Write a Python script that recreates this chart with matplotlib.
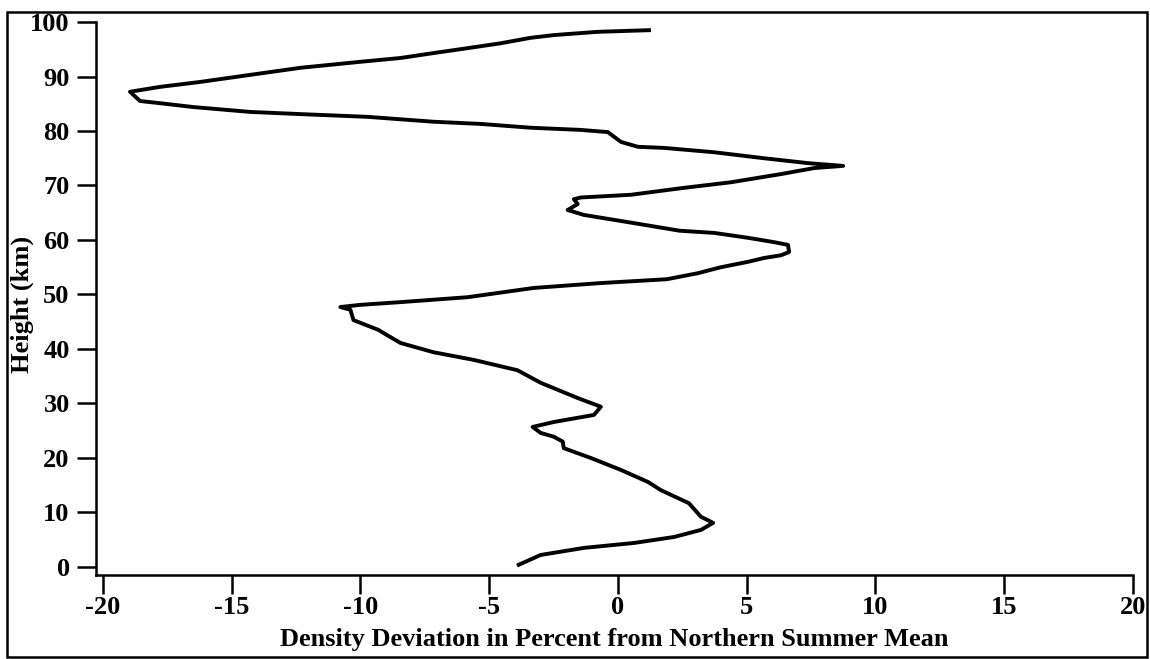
import matplotlib.pyplot as plt
import matplotlib.patches as patch

# density deviation profile, bottom to top
deviation = [-3.85, -3.0, -1.32, 0.62, 2.18, 3.23, 3.70, 3.23, 2.76, 1.67,
             1.17, 0.12, -1.05, -2.1, -2.14, -2.49, -3.0, -3.31, -2.49, -0.93,
             -0.66, -1.56, -3.0, -3.9, -5.6, -7.16, -8.44, -8.95, -9.3, -10.27,
             -10.39, -10.78, -10.0, -8.44, -5.84, -3.27, -0.66, 1.9, 3.1, 4.0,
             5.06, 5.68, 6.34, 6.65, 6.61, 6.07, 5.06, 3.74, 2.4, 0.62,
             -1.32, -1.95, -1.56, -1.71, -1.44, 0.51, 2.45, 4.4, 6.34, 7.63,
             8.75, 7.39, 5.68, 3.74, 1.79, 0.78, 0.12, -0.39, -1.44, -3.39,
             -5.33, -7.16, -9.73, -12.33, -14.28, -16.5, -17.78, -18.56, -18.95, -17.78,
             -16.23, -14.28, -12.33, -10.0, -8.44, -7.16, -5.84, -4.55, -3.39, -2.49,
             -0.78, 1.21]
height = [0.4, 2.2, 3.5, 4.4, 5.5, 6.8, 8.1, 9.2, 11.7, 14.1,
          15.6, 17.8, 20.0, 21.8, 23.0, 23.9, 24.6, 25.7, 26.6, 27.9,
          29.4, 31.0, 33.8, 36.1, 38.0, 39.4, 41.1, 42.5, 43.5, 45.3,
          47.2, 47.7, 48.1, 48.6, 49.5, 51.2, 52.1, 52.8, 53.9, 55.0,
          56.0, 56.7, 57.2, 57.8, 59.1, 59.6, 60.4, 61.3, 61.7, 63.1,
          64.6, 65.5, 66.6, 67.5, 67.8, 68.3, 69.5, 70.6, 72.1, 73.2,
          73.6, 74.1, 75.0, 76.1, 76.9, 77.1, 78.0, 79.8, 80.2, 80.6,
          81.3, 81.7, 82.6, 83.1, 83.5, 84.4, 85.1, 85.5, 87.2, 88.1,
          89.0, 90.3, 91.6, 92.7, 93.4, 94.3, 95.2, 96.1, 97.1, 97.6,
          98.2, 98.5]

x_ticks = [-20, -15, -10, -5, 0, 5, 10, 15, 20]
y_ticks = [0, 10, 20, 30, 40, 50, 60, 70, 80, 90, 100]

plt.rcParams['font.family'] = ['Liberation Serif', 'DejaVu Serif']
plt.rcParams['font.weight'] = 'bold'

fig = plt.figure(figsize=(11.5, 6.59), dpi=100)
ax = fig.add_axes([0.0835, 0.1275, 0.9015, 0.8391])

ax.plot(deviation, height, color='black', lw=2.8, solid_joinstyle='round')

ax.set_xlim(-20.27, 20)
ax.set_ylim(-1.47, 100)
ax.set_xticks(x_ticks)
ax.set_yticks(y_ticks)
ax.set_xticklabels([str(t) for t in x_ticks], fontsize=19, fontweight='bold')
ax.set_yticklabels([str(t) for t in y_ticks], fontsize=19, fontweight='bold')
ax.tick_params(length=14, width=1.8, color='black')
ax.tick_params(axis='x', pad=1)
ax.tick_params(axis='y', pad=5)

# only left and bottom axis lines
ax.spines['top'].set_visible(False)
ax.spines['right'].set_visible(False)
ax.spines['left'].set_linewidth(1.8)
ax.spines['bottom'].set_linewidth(1.8)

ax.set_xlabel('Density Deviation in Percent from Northern Summer Mean',
              fontsize=19, fontweight='bold', va='center')
ax.xaxis.set_label_coords(0.5, -0.1175)
ax.set_ylabel('Height (km)', fontsize=19, fontweight='bold', va='center')
ax.yaxis.set_label_coords(-0.0714, 0.49)

# frame around the whole figure
frame = patch.Rectangle((0.006, 0.003), 0.9914, 0.979, transform=fig.transFigure,
                        fill=False, edgecolor='black', lw=1.8)
fig.patches.append(frame)

plt.savefig('out.png', dpi=100)
